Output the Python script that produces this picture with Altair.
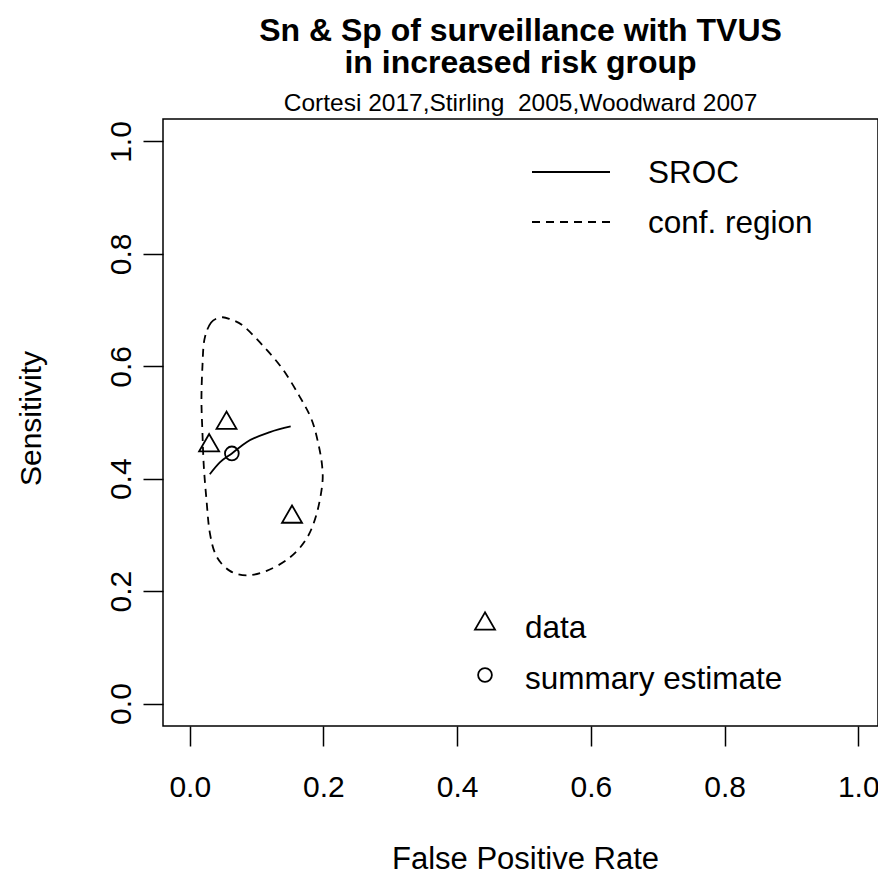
import altair as alt
import pandas as pd

# ---- data ----
study_fpr = [0.055, 0.029, 0.153]
study_sens = [0.504, 0.464, 0.337]
summary_fpr = [0.063]
summary_sens = [0.445]

sroc_fpr = [0.030, 0.045, 0.063, 0.085, 0.120, 0.151]
sroc_sens = [0.408, 0.429, 0.445, 0.465, 0.483, 0.493]

region_fpr = [0.047, 0.032, 0.022, 0.019, 0.0175, 0.019, 0.021, 0.025, 0.030, 0.040,
              0.060, 0.085, 0.115, 0.149, 0.174, 0.189, 0.198, 0.198, 0.192, 0.182,
              0.164, 0.139, 0.110, 0.080, 0.060]
region_sens = [0.687, 0.678, 0.648, 0.600, 0.541, 0.482, 0.423, 0.363, 0.304, 0.262,
               0.236, 0.228, 0.236, 0.259, 0.292, 0.334, 0.387, 0.423, 0.464, 0.506,
               0.547, 0.595, 0.636, 0.672, 0.684]

x_ticks = [0.0, 0.2, 0.4, 0.6, 0.8, 1.0]
y_ticks = [0.0, 0.2, 0.4, 0.6, 0.8, 1.0]

title_lines = ["Sn & Sp of surveillance with TVUS", "in increased risk group"]
subtitle_text = "Cortesi 2017,Stirling \u00a02005,Woodward 2007"
x_title = "False Positive Rate"
y_title = "Sensitivity"
line_legend = ["SROC", "conf. region"]
point_legend = ["data", "summary estimate"]

FONT = "Liberation Sans"
W, H = 715, 607

study_df = pd.DataFrame({"fpr": study_fpr, "sens": study_sens})
summary_df = pd.DataFrame({"fpr": summary_fpr, "sens": summary_sens})
sroc_df = pd.DataFrame({"fpr": sroc_fpr, "sens": sroc_sens})
region_df = pd.DataFrame({"fpr": region_fpr, "sens": region_sens,
                          "i": list(range(len(region_fpr)))})

xscale = alt.Scale(domain=[-0.04, 1.0295], nice=False, zero=False)
yscale = alt.Scale(domain=[-0.04, 1.04], nice=False, zero=False)

x_axis = alt.Axis(values=x_ticks, format=".1f", title=x_title, grid=False, domain=False,
                  tickSize=20, tickWidth=1.5, tickColor="black",
                  labelFont=FONT, labelFontSize=30, labelColor="black",
                  labelPadding=41, labelBaseline="middle", labelFlush=False,
                  labelOverlap=False,
                  titleFont=FONT, titleFontSize=31, titleFontWeight="normal",
                  titleColor="black", titleX=362, titleY=133,
                  titleBaseline="middle", titleAlign="center")
y_axis = alt.Axis(values=y_ticks, format=".1f", title=y_title, grid=False, domain=False,
                  tickSize=20, tickWidth=1.5, tickColor="black",
                  labelFont=FONT, labelFontSize=30, labelColor="black",
                  labelAngle=270, labelAlign="center", labelBaseline="middle",
                  labelPadding=22, labelFlush=False, labelOverlap=False,
                  titleFont=FONT, titleFontSize=30, titleFontWeight="normal",
                  titleColor="black", titleAngle=270, titleX=-132, titleY=299,
                  titleBaseline="middle", titleAlign="center")

X = alt.X("fpr:Q", scale=xscale, axis=x_axis)
Y = alt.Y("sens:Q", scale=yscale, axis=y_axis)

region = alt.Chart(region_df).mark_line(
    color="black", strokeWidth=1.8, strokeDash=[8, 6], interpolate="cardinal-closed"
).encode(x=X, y=Y, order=alt.Order("i:Q"))

sroc = alt.Chart(sroc_df).mark_line(
    color="black", strokeWidth=1.8, interpolate="monotone"
).encode(x=X, y=Y)

studies = alt.Chart(study_df).mark_point(
    shape="triangle-up", size=400, filled=False, color="black", strokeWidth=1.8, opacity=1
).encode(x=X, y=Y)

summary = alt.Chart(summary_df).mark_point(
    shape="circle", size=190, filled=False, color="black", strokeWidth=1.8, opacity=1
).encode(x=X, y=Y)

# ---- legends ----
leg_line1 = alt.Chart(pd.DataFrame({"label": [line_legend[0]]})).mark_rule(
    color="black", strokeWidth=1.8
).encode(x=alt.value(369), x2=alt.value(447), y=alt.value(53))
leg_line2 = alt.Chart(pd.DataFrame({"label": [line_legend[1]]})).mark_rule(
    color="black", strokeWidth=1.8, strokeDash=[8, 6]
).encode(x=alt.value(369), x2=alt.value(447), y=alt.value(103))

def leg_text(label, x, y):
    return alt.Chart(pd.DataFrame({"label": [label]})).mark_text(
        align="left", baseline="middle", font=FONT, fontSize=31.5, color="black"
    ).encode(x=alt.value(x), y=alt.value(y), text="label:N")

leg_t1 = leg_text(line_legend[0], 485, 55)
leg_t2 = leg_text(line_legend[1], 485, 105)
leg_t3 = leg_text(point_legend[0], 362, 510)
leg_t4 = leg_text(point_legend[1], 362, 561)

leg_tri = alt.Chart(pd.DataFrame({"label": [point_legend[0]]})).mark_point(
    shape="triangle-up", size=400, filled=False, color="black", strokeWidth=1.8, opacity=1
).encode(x=alt.value(322), y=alt.value(502))
leg_circ = alt.Chart(pd.DataFrame({"label": [point_legend[1]]})).mark_point(
    shape="circle", size=190, filled=False, color="black", strokeWidth=1.8, opacity=1
).encode(x=alt.value(322), y=alt.value(556))

chart = alt.layer(
    region, sroc, studies, summary,
    leg_line1, leg_line2, leg_t1, leg_t2, leg_t3, leg_t4, leg_tri, leg_circ
).properties(
    width=W, height=H,
    title=alt.TitleParams(
        text=title_lines, subtitle=subtitle_text,
        font=FONT, fontSize=32, fontWeight="bold", color="black",
        subtitleFont=FONT, subtitleFontSize=24.5, subtitleColor="black",
        lineHeight=32, subtitlePadding=12, anchor="middle", frame="group", offset=3
    ),
    autosize=alt.AutoSizeParams(type="none"),
    padding={"left": 155, "top": 111, "right": 0, "bottom": 143},
    background="white"
).configure_view(stroke="black", strokeWidth=1.5)

chart.save("out.html", embed_options={"renderer": "svg", "actions": False})
